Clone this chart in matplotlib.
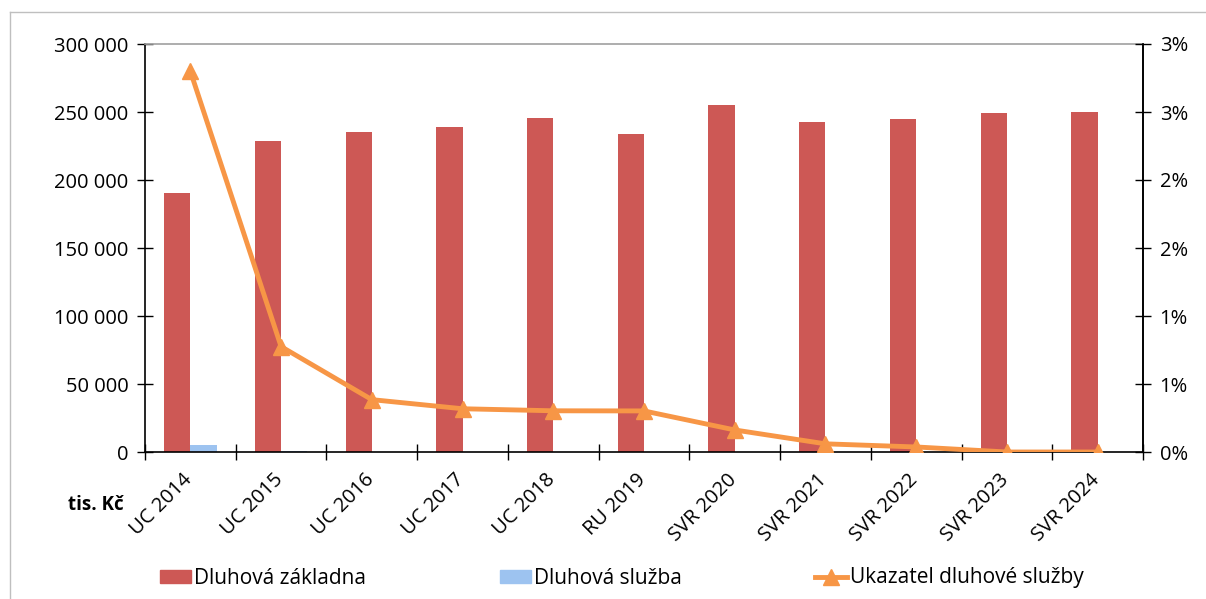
import math
import numpy as np
import matplotlib
matplotlib.use("Agg")
import matplotlib.pyplot as plt
from matplotlib.ticker import FuncFormatter, MultipleLocator, FixedLocator, NullFormatter
from matplotlib.lines import Line2D
import matplotlib.transforms as mtransforms

categories = ["UC 2014", "UC 2015", "UC 2016", "UC 2017", "UC 2018", "RU 2019",
              "SVR 2020", "SVR 2021", "SVR 2022", "SVR 2023", "SVR 2024"]
dluhova_zakladna = [190500, 228500, 235000, 238800, 245300, 233500,
                    255000, 242500, 244800, 249000, 249800]
dluhova_sluzba = [5500, 700, 250, 150, 120, 100, 80, 60, 50, 20, 10]
ukazatel = [2.80, 0.775, 0.385, 0.318, 0.303, 0.302, 0.162, 0.060, 0.037, 0.0, 0.0]

RED = "#CD5855"
BLUE = "#9DC3F0"
ORANGE = "#F79646"

plt.rcParams['font.family'] = ['Open Sans', 'DejaVu Sans']
FS = 14.5

fig = plt.figure(figsize=(12.06, 5.99), dpi=100)
ax = fig.add_axes([145/1206, 1-452/599, (1143-145)/1206, (452-44)/599])

x = np.arange(len(categories))
w = 0.29
ax.bar(x - w/2, dluhova_zakladna, width=w, color=RED, label="Dluhová základna", zorder=2)
ax.bar(x + w/2, dluhova_sluzba, width=w, color=BLUE, label="Dluhová služba", zorder=2)

ax.set_xlim(-0.5, len(categories) - 0.5)
ax.set_ylim(0, 300000)
ax.yaxis.set_major_locator(MultipleLocator(50000))
ax.yaxis.set_major_formatter(FuncFormatter(lambda v, p: f"{int(v):,}".replace(",", " ")))

ax.xaxis.set_major_locator(FixedLocator(np.arange(len(categories) + 1) - 0.5))
ax.xaxis.set_major_formatter(NullFormatter())
ax.tick_params(axis="x", which="major", direction="inout", length=12, width=1)
ax.tick_params(axis="y", direction="inout", length=12, width=1, labelsize=FS, pad=6)

# category labels drawn as rotated text at category centres
label_tf = ax.get_xaxis_transform() + mtransforms.ScaledTranslation(6/100, -18/100, fig.dpi_scale_trans)
for xi, cat in zip(x, categories):
    ax.text(xi, 0, cat, transform=label_tf, rotation=45, rotation_mode="default",
            ha="right", va="top", fontsize=FS)

for s in ["left", "bottom", "right"]:
    ax.spines[s].set_color("black")
    ax.spines[s].set_linewidth(1.2)
ax.spines["top"].set_color("#A0A0A0")
ax.spines["top"].set_linewidth(1.2)

ax2 = ax.twinx()
ax2.plot(x, [v / 100 for v in ukazatel], color=ORANGE, linewidth=3.5, marker="^",
         markersize=12, label="Ukazatel dluhové služby", zorder=3)
ax2.set_ylim(0, 0.03)
ax2.yaxis.set_major_locator(MultipleLocator(0.005))
ax2.yaxis.set_major_formatter(FuncFormatter(lambda v, p: f"{math.floor(v*100 + 0.5 + 1e-9)}%"))
ax2.tick_params(axis="y", direction="inout", length=12, width=1, labelsize=FS, pad=6)
for s in ["left", "bottom", "top"]:
    ax2.spines[s].set_visible(False)
ax2.spines["right"].set_color("black")
ax2.spines["right"].set_linewidth(1.2)

fig.text(124/1206, 1-505/599, "tis. Kč", fontsize=13.5, fontweight="bold", va="center", ha="right")

handles = [
    plt.Rectangle((0, 0), 1, 1, color=RED),
    plt.Rectangle((0, 0), 1, 1, color=BLUE),
    Line2D([], [], color=ORANGE, linewidth=3.5, marker="^", markersize=12),
]
labels = ["Dluhová základna", "Dluhová služba", "Ukazatel dluhové služby"]
fig.legend(handles, labels, ncol=3, loc="center left", bbox_to_anchor=(160/1206, 1-578/599),
           frameon=False, fontsize=15, columnspacing=6.4, handlelength=1.5,
           handletextpad=0.15, handleheight=0.6, borderpad=0, borderaxespad=0)

# outer frame lines (left and top)
fig.add_artist(Line2D([10/1206, 10/1206], [0, 1-12/599], transform=fig.transFigure,
                      color="#BFBFBF", linewidth=1))
fig.add_artist(Line2D([10/1206, 1], [1-12/599, 1-12/599], transform=fig.transFigure,
                      color="#BFBFBF", linewidth=1))

fig.savefig("out.png", dpi=100)
